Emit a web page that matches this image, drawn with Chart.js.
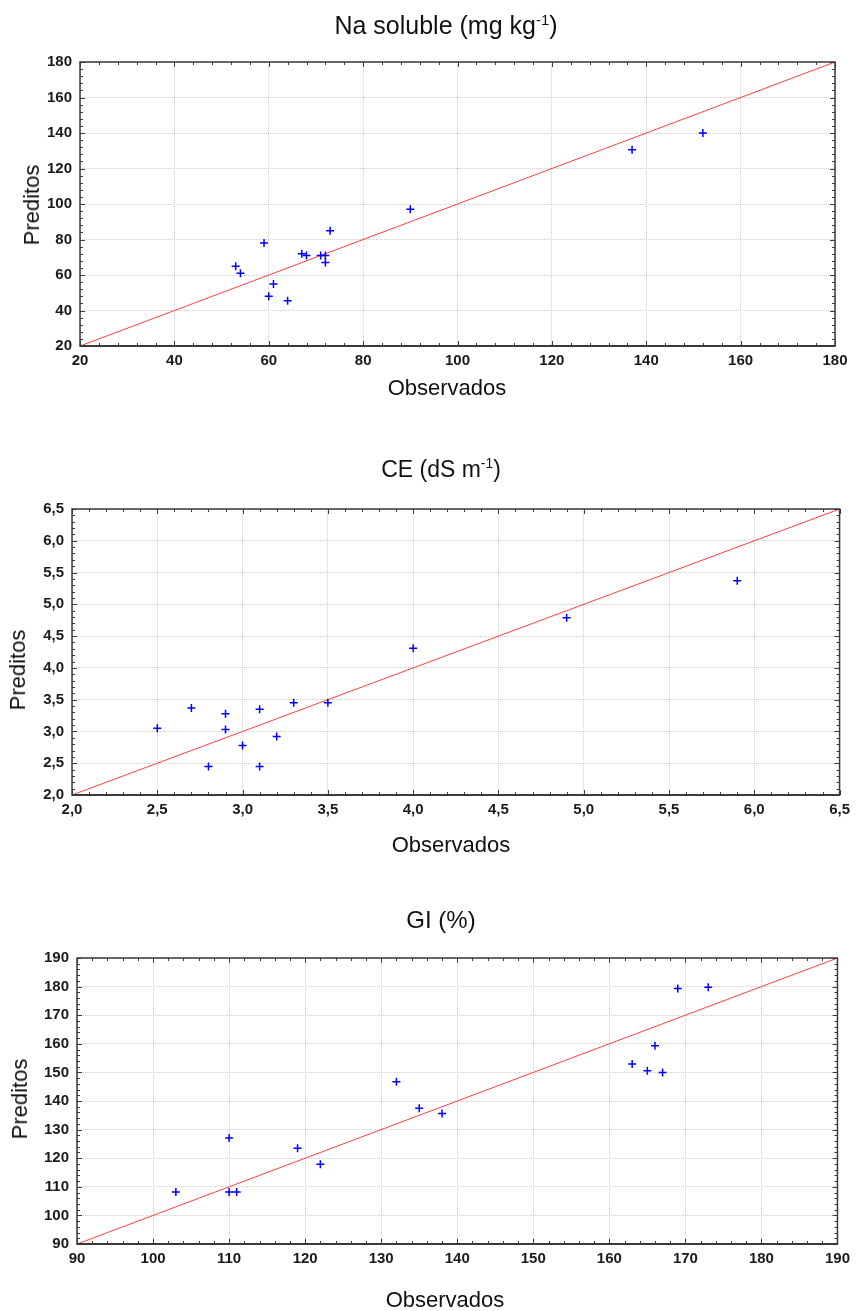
<!DOCTYPE html>
<html lang="pt">
<head>
<meta charset="utf-8">
<title>Observados x Preditos</title>
<script src="https://cdn.jsdelivr.net/npm/chart.js@4.4.1/dist/chart.umd.min.js"></script>
<style>
    html, body { margin: 0; padding: 0; background: #fff; }
    body {
        width: 856px; height: 1311px; position: relative; overflow: hidden;
        font-family: "Liberation Sans", Arial, sans-serif; color: #111;
    }
    .panel { position: absolute; left: 0; width: 856px; }
    .panel canvas { position: absolute; left: 0; top: 0; }
    .lbl {
        position: absolute; transform: translate(-50%, -50%);
        white-space: nowrap; line-height: 1;
    }
    .lbl.rot { transform: translate(-50%, -50%) rotate(-90deg); }
    .lbl sup { font-size: 60%; vertical-align: 0.6em; line-height: 0; }
</style>
</head>
<body>

<div class="panel" style="top:0;height:400px">
    <canvas id="naChart" width="856" height="400"></canvas>
    <div class="lbl" style="left:446px;top:25px;font-size:25px">Na soluble (mg kg<sup>-1</sup>)</div>
    <div class="lbl" style="left:447px;top:388px;font-size:22px">Observados</div>
    <div class="lbl rot" style="left:32px;top:205px;font-size:22px">Preditos</div>
</div>

<div class="panel" style="top:440px;height:420px">
    <canvas id="ceChart" width="856" height="420"></canvas>
    <div class="lbl" style="left:441px;top:29px;font-size:23px">CE (dS m<sup>-1</sup>)</div>
    <div class="lbl" style="left:451px;top:405px;font-size:22px">Observados</div>
    <div class="lbl rot" style="left:18px;top:230px;font-size:22px">Preditos</div>
</div>

<div class="panel" style="top:900px;height:411px">
    <canvas id="giChart" width="856" height="411"></canvas>
    <div class="lbl" style="left:441px;top:20px;font-size:24px">GI (%)</div>
    <div class="lbl" style="left:445px;top:400px;font-size:22px">Observados</div>
    <div class="lbl rot" style="left:20px;top:199px;font-size:22px">Preditos</div>
</div>

<script>
// Na solúvel (mg kg-1)
const naObservados = [53, 54, 59, 60, 61, 64, 67, 68, 71, 72, 72, 73, 90, 137, 152];
const naPreditos   = [65, 61, 78, 48, 55, 45.5, 72, 71, 71, 71, 67, 85, 97, 130.5, 140];
const naTicks      = [20, 40, 60, 80, 100, 120, 140, 160, 180];

// CE (dS m-1)
const ceObservados = [2.5, 2.7, 2.8, 2.9, 2.9, 3.0, 3.1, 3.1, 3.2, 3.3, 3.5, 4.0, 4.9, 5.9];
const cePreditos   = [3.05, 3.37, 2.45, 3.28, 3.03, 2.78, 3.35, 2.45, 2.92, 3.45, 3.45, 4.31, 4.79, 5.37];
const ceTicks      = [2.0, 2.5, 3.0, 3.5, 4.0, 4.5, 5.0, 5.5, 6.0, 6.5];

// GI (%)
const giObservados = [103, 110, 110, 111, 119, 122, 132, 135, 138, 163, 165, 166, 167, 169, 173];
const giPreditos   = [108.2, 127.1, 108.2, 108.2, 123.5, 117.9, 146.7, 137.5, 135.6, 152.9, 150.6, 159.3, 150, 179.3, 179.8];
const giTicks      = [90, 100, 110, 120, 130, 140, 150, 160, 170, 180, 190];

// plot frame plus small inward ticks on all four sides (5 subdivisions per step)
const frameTicks = {
    id: 'frameTicks',
    afterDraw(chart) {
        const { ctx, chartArea: a, scales } = chart;
        ctx.save();
        ctx.strokeStyle = '#3a3a3a';
        ctx.lineWidth = 1;
        ctx.beginPath();
        ['x', 'y'].forEach(key => {
            const s = scales[key];
            const vals = s.ticks.map(t => t.value);
            const step = vals[1] - vals[0];
            const n = Math.round((vals[vals.length - 1] - vals[0]) / (step / 5));
            for (let i = 0; i <= n; i++) {
                const v = vals[0] + i * step / 5;
                const p = Math.round(s.getPixelForValue(v)) + 0.5;
                const len = i % 5 === 0 ? 5 : 3;
                if (key === 'x') {
                    ctx.moveTo(p, a.bottom); ctx.lineTo(p, a.bottom - len);
                    ctx.moveTo(p, a.top); ctx.lineTo(p, a.top + len);
                } else {
                    ctx.moveTo(a.left, p); ctx.lineTo(a.left + len, p);
                    ctx.moveTo(a.right, p); ctx.lineTo(a.right - len, p);
                }
            }
        });
        ctx.stroke();

        ctx.lineWidth = 1.5;
        ctx.strokeRect(a.left, a.top, a.right - a.left, a.bottom - a.top);
        ctx.lineWidth = 2;
        ctx.beginPath();
        ctx.moveTo(a.left, a.bottom);
        ctx.lineTo(a.right, a.bottom);
        ctx.stroke();
        ctx.restore();
    }
};

function makeChart(id, obs, pred, ticks, fmt, area) {
    const canvas = document.getElementById(id);
    const W = canvas.width, H = canvas.height;
    const lo = ticks[0], hi = ticks[ticks.length - 1];
    const tickFont = { family: 'Liberation Sans, Arial, sans-serif', size: 15, weight: 'bold' };

    const axis = (pad) => ({
        type: 'linear',
        min: lo,
        max: hi,
        afterBuildTicks: s => { s.ticks = ticks.map(v => ({ value: v })); },
        grid: { color: '#cdcdcd', lineWidth: 1, drawTicks: false },
        border: { display: false, dash: [1, 1] },
        ticks: { color: '#1a1a1a', font: tickFont, padding: pad, callback: fmt }
    });

    return new Chart(canvas, {
        type: 'scatter',
        data: {
            datasets: [
                {
                    type: 'scatter',
                    data: obs.map((x, i) => ({ x: x, y: pred[i] })),
                    pointStyle: 'cross',
                    pointRadius: 4,
                    pointHoverRadius: 4,
                    borderColor: '#0000ff',
                    borderWidth: 1.5
                },
                {
                    // 1:1 reference line across the axis range
                    type: 'line',
                    data: [{ x: lo, y: lo }, { x: hi, y: hi }],
                    borderColor: '#ff4040',
                    borderWidth: 1,
                    pointRadius: 0,
                    fill: false
                }
            ]
        },
        options: {
            responsive: false,
            animation: false,
            layout: { padding: { left: 0, top: area.top, right: W - area.right, bottom: 0 } },
            plugins: {
                legend: { display: false },
                tooltip: { enabled: false }
            },
            scales: {
                x: Object.assign(axis(6), { position: 'bottom', afterFit: s => { s.height = H - area.bottom; } }),
                y: Object.assign(axis(8), { position: 'left', afterFit: s => { s.width = area.left; } })
            }
        },
        plugins: [frameTicks]
    });
}

const plain = v => String(v);
const decimal = v => v.toFixed(1).replace('.', ',');

makeChart('naChart', naObservados, naPreditos, naTicks, plain,   { left: 80, top: 62, right: 835, bottom: 346 });
makeChart('ceChart', ceObservados, cePreditos, ceTicks, decimal, { left: 72, top: 69, right: 842, bottom: 355 });
makeChart('giChart', giObservados, giPreditos, giTicks, plain,   { left: 77, top: 58, right: 838, bottom: 344 });
</script>
</body>
</html>
